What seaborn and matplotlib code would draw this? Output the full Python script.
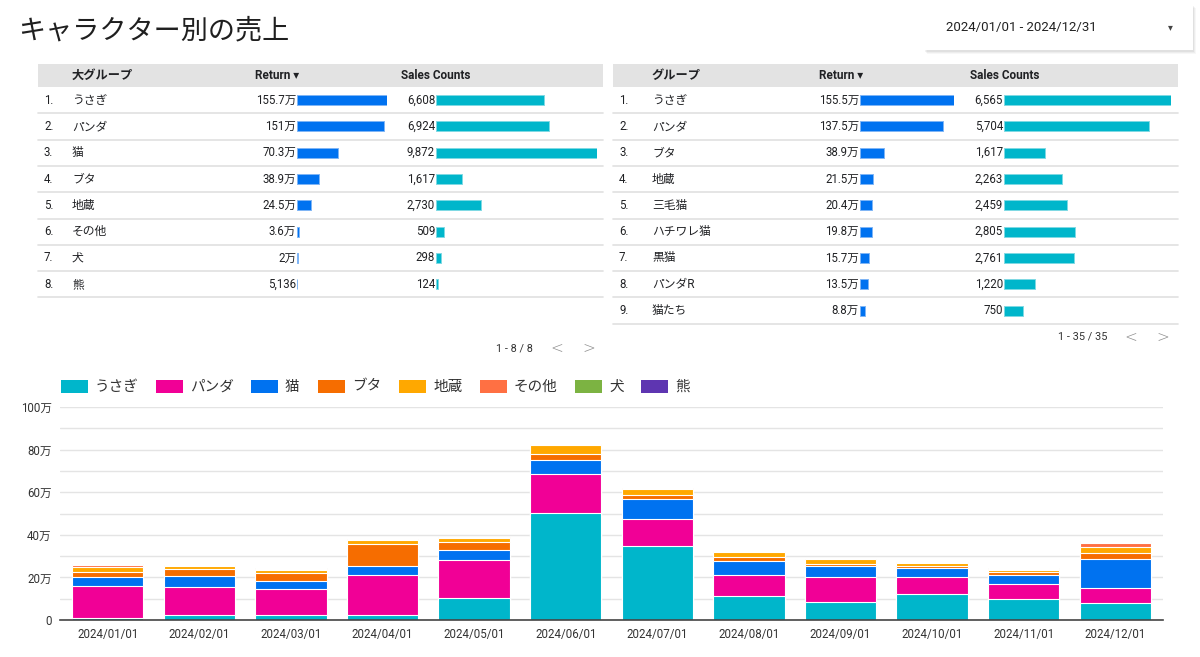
import numpy as np
import pandas as pd
import matplotlib
matplotlib.use('Agg')
import matplotlib.pyplot as plt
from matplotlib.patches import Rectangle
from matplotlib.lines import Line2D
import seaborn as sns

# ---------------- data ----------------
title = 'キャラクター別の売上'
date_range = '2024/01/01 - 2024/12/31'

months = ['2024/01/01', '2024/02/01', '2024/03/01', '2024/04/01', '2024/05/01', '2024/06/01',
          '2024/07/01', '2024/08/01', '2024/09/01', '2024/10/01', '2024/11/01', '2024/12/01']
series_names = ['うさぎ', 'パンダ', '猫', 'ブタ', '地蔵', 'その他', '犬', '熊']
# monthly return per group (unit: 万)
usagi = [1.1, 2.3, 2.3, 2.3, 10.3, 50.1, 34.7, 11.4, 8.3, 12.2, 9.9, 8.1]
panda = [15.0, 13.0, 12.4, 19.0, 17.8, 18.4, 12.7, 9.9, 11.7, 7.8, 7.0, 6.9]
neko = [3.9, 5.2, 3.6, 3.9, 4.7, 6.6, 9.3, 6.3, 5.2, 4.3, 4.1, 13.8]
buta = [2.5, 3.3, 3.9, 10.3, 3.9, 2.8, 1.8, 1.8, 1.1, 1.2, 1.4, 2.5]
jizo = [2.2, 1.7, 1.3, 2.2, 1.9, 4.3, 2.9, 2.7, 2.3, 1.3, 1.2, 2.8]
sonota = [1.2, 0.2, 0.4, 0.1, 0.3, 0.2, 0.4, 0.3, 0.1, 0.2, 0.4, 2.2]
inu = [0.15, 0.08, 0.3, 0.1, 0.15, 0.08, 0.15, 0.1, 0.08, 0.15, 0.25, 0.5]
kuma = [0.05, 0.03, 0.1, 0.03, 0.05, 0.03, 0.05, 0.03, 0.03, 0.05, 0.05, 0.1]
series_values = [usagi, panda, neko, buta, jizo, sonota, inu, kuma]
series_colors = ['#00b6cb', '#f10096', '#0072f0', '#f66d00', '#ffa800', '#ff7043', '#7cb342', '#5e35b1']
y_ticks = [0, 200000, 400000, 600000, 800000, 1000000]
y_tick_labels = ['0', '20万', '40万', '60万', '80万', '100万']

left_header = ['大グループ', 'Return ▾', 'Sales Counts']
left_groups = ['うさぎ', 'パンダ', '猫', 'ブタ', '地蔵', 'その他', '犬', '熊']
left_return = [1557000, 1510000, 703000, 389000, 245000, 36000, 20000, 5136]
left_sales = [6608, 6924, 9872, 1617, 2730, 509, 298, 124]
left_pager = '1 - 8 / 8'

right_header = ['グループ', 'Return ▾', 'Sales Counts']
right_groups = ['うさぎ', 'パンダ', 'ブタ', '地蔵', '三毛猫', 'ハチワレ猫', '黒猫', 'パンダR', '猫たち']
right_return = [1555000, 1375000, 389000, 215000, 204000, 198000, 157000, 135000, 88000]
right_sales = [6565, 5704, 1617, 2263, 2459, 2805, 2761, 1220, 750]
right_pager = '1 - 35 / 35'

# ---------------- style ----------------
sns.set_style('white')
plt.rcParams['font.family'] = ['Roboto', 'Noto Sans CJK JP', 'DejaVu Sans']
TXT = '#202124'

W, H = 1200, 657
fig = plt.figure(figsize=(W / 100, H / 100), dpi=100)
fig.patch.set_facecolor('white')


def fx(px):
    return px / W


def fy(py):
    return 1 - py / H


def ftext(px, py, s, **kw):
    kw.setdefault('color', TXT)
    kw.setdefault('va', 'center')
    fig.text(fx(px), fy(py), s, **kw)


def frect(x0, y0, x1, y1, color, **kw):
    fig.patches.append(Rectangle((fx(x0), fy(y1)), (x1 - x0) / W, (y1 - y0) / H,
                                 transform=fig.transFigure, facecolor=color,
                                 edgecolor='none', **kw))


def fline(x0, x1, y, color='#e0e0e0', lw=1.0):
    fig.add_artist(Line2D([fx(x0), fx(x1)], [fy(y), fy(y)], color=color, lw=lw,
                          transform=fig.transFigure))


def fmt_return(v):
    if v >= 10000:
        s = f'{v / 10000:.1f}'
        if s.endswith('.0'):
            s = s[:-2]
        return s + '万'
    return f'{v:,}'


# ---------------- title + date box ----------------
ftext(18, 31, title, fontsize=19.5, family=['Noto Sans CJK JP'], color='#1f1f1f')

for i, a in enumerate([0.05, 0.04, 0.03]):
    frect(925 + i, 5 + i + 1, 1193 + i + 1, 50 + i + 2, 'black', alpha=a)
frect(925, 5, 1193, 50, 'white')
ftext(946, 28, date_range, fontsize=9.5, color='#222')
ftext(1170, 27, '▾', fontsize=7, color='#444', ha='center',
      family=['DejaVu Sans'])

# ---------------- tables ----------------
ROW_H = 26.3
HDR_TOP, HDR_BOT = 64, 87


def bar_column(values, left_px, width_px, n, color, edge):
    ax = fig.add_axes([fx(left_px), fy(HDR_BOT + n * ROW_H), width_px / W, n * ROW_H / H])
    df = pd.DataFrame({'row': [str(i) for i in range(n)], 'v': values})
    sns.barplot(data=df, x='v', y='row', orient='h', color=color, saturation=1,
                width=0.38, errorbar=None, edgecolor=edge, linewidth=0.7, ax=ax)
    ax.set_xlim(0, max(values))
    ax.set_ylim(n - 0.5, -0.5)
    ax.axis('off')
    ax.patch.set_alpha(0)


def draw_table(x0, x1, header, names, ret, sales, num_x, name_x,
               ret_hdr_x, sales_hdr_x, ret_right, ret_w, sales_right, sales_w):
    n = len(names)
    frect(x0, HDR_TOP, x1, HDR_BOT, '#e3e3e3')
    hy = (HDR_TOP + HDR_BOT) / 2
    ftext(name_x, hy, header[0], fontsize=8.8, weight='bold')
    ftext(ret_hdr_x, hy, header[1], fontsize=8.5, weight='bold')
    ftext(sales_hdr_x, hy, header[2], fontsize=8.5, weight='bold')
    for i in range(n):
        cy = HDR_BOT + ROW_H * (i + 0.5)
        ftext(num_x, cy, f'{i + 1}.', fontsize=8.3)
        ftext(name_x, cy, names[i], fontsize=8.5)
        ftext(ret_right, cy, fmt_return(ret[i]), fontsize=8.3, ha='right')
        ftext(sales_right, cy, f'{sales[i]:,}', fontsize=8.3, ha='right')
        fline(x0, x1, HDR_BOT + ROW_H * (i + 1), color='#e0e0e0', lw=1.2)
    bar_column(ret, ret_right + 1, ret_w, n, '#0072f0', '#7fb5f5')
    bar_column(sales, sales_right + 1, sales_w, n, '#00b6cb', '#7fd9e3')


draw_table(38, 603, left_header, left_groups, left_return, left_sales,
           num_x=44, name_x=72, ret_hdr_x=255, sales_hdr_x=401,
           ret_right=296, ret_w=90, sales_right=435, sales_w=161)
draw_table(613, 1178, right_header, right_groups, right_return, right_sales,
           num_x=619, name_x=652, ret_hdr_x=819, sales_hdr_x=970,
           ret_right=859, ret_w=94, sales_right=1003, sales_w=167)

ftext(496, 348, left_pager, fontsize=7.8, color='#333')
ftext(557, 349, '<', fontsize=11, color='#8a8a8a', ha='center', family=['DejaVu Sans'], weight='light')
ftext(589, 349, '>', fontsize=11, color='#8a8a8a', ha='center', family=['DejaVu Sans'], weight='light')
ftext(1058, 337, right_pager, fontsize=7.8, color='#333')
ftext(1131, 338, '<', fontsize=11, color='#8a8a8a', ha='center', family=['DejaVu Sans'], weight='light')
ftext(1163, 338, '>', fontsize=11, color='#8a8a8a', ha='center', family=['DejaVu Sans'], weight='light')

# ---------------- legend ----------------
legend_x = [61, 156, 251, 318, 399, 480, 575, 641]
for name, col, lx in zip(series_names, series_colors, legend_x):
    frect(lx, 380, lx + 27, 393, col)
    ftext(lx + 34, 386.5, name, fontsize=10.5, color='#333')

# ---------------- stacked bar chart ----------------
ax = fig.add_axes([fx(60), fy(620), 1103 / W, 213 / H])
vals = np.array(series_values) * 10000
cum = np.cumsum(vals, axis=0)
for k in range(len(series_names) - 1, -1, -1):
    df = pd.DataFrame({'month': months, 'value': cum[k]})
    sns.barplot(data=df, x='month', y='value', color=series_colors[k], saturation=1,
                width=0.78, errorbar=None, edgecolor='white', linewidth=0.8, ax=ax)

ax.set_xlim(-0.52, 11.52)
ax.set_ylim(0, 1000000)
ax.set_yticks(y_ticks)
ax.set_yticklabels(y_tick_labels)
ax.set_yticks(np.arange(0, 1000001, 100000), minor=True)
ax.yaxis.grid(True, which='both', color='#e4e4e4', lw=1)
ax.xaxis.grid(False)
ax.set_axisbelow(True)
ax.set_xlabel('')
ax.set_ylabel('')
ax.tick_params(axis='both', which='both', length=0, labelsize=8.3, colors='#333')
ax.tick_params(axis='y', pad=6)
ax.tick_params(axis='x', pad=6)
for s in ['left', 'right', 'top']:
    ax.spines[s].set_visible(False)
ax.spines['bottom'].set_color('#444')
ax.spines['bottom'].set_linewidth(1.2)
ax.spines['bottom'].set_zorder(5)

fig.savefig('out.png', dpi=100)
